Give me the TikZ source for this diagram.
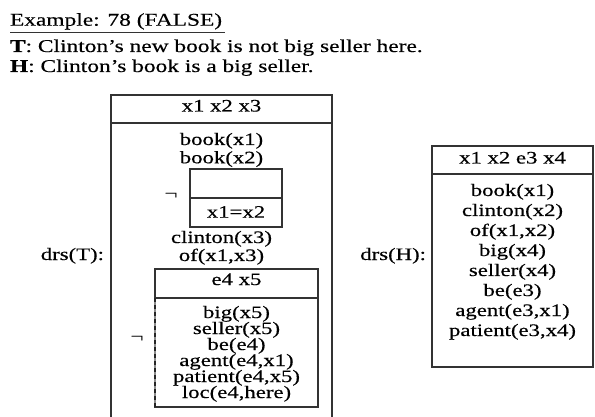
\documentclass[tikz,border=0pt]{standalone}
\usepackage{fontspec}
\setmainfont[FakeStretch=1.3,FakeBold=0.35]{Liberation Serif}
\begin{document}
\begin{tikzpicture}[x=1pt,y=-1pt,
  every node/.style={inner sep=0pt,outer sep=0pt,text=black},
  head/.style={font=\fontsize{18}{20}\selectfont,anchor=base west},
  term/.style={font=\fontsize{17.5}{20}\selectfont,anchor=base},
  lab/.style={font=\fontsize{17.5}{20}\selectfont,anchor=base east},
  negsign/.style={font=\fontsize{18}{20}\selectfont,anchor=center},
  boxline/.style={draw=black!80,line width=1.1pt},
]
\useasboundingbox (0,0) rectangle (595,417);

% heading and the two sentences
\node[head] (ex) at (10,25.7) {Example: 78 (FALSE)};
\coordinate (ulA) at (10,32.5);
\coordinate (ulB) at (225,32.5);
\draw[draw=black!80,line width=1.4pt] (ulA) -- (ulB);
\node[head] (sentT) at (10,52) {\textbf{T}: Clinton’s new book is not big seller here.};
\node[head] (sentH) at (10,72) {\textbf{H}: Clinton’s book is a big seller.};

% ---- drs(T): outer box, open at the bottom ----
\coordinate (tTL) at (111,95);
\coordinate (tTR) at (332,95);
\coordinate (tBL) at (111,417);
\coordinate (tBR) at (332,417);
\coordinate (tSL) at (111,123);
\coordinate (tSR) at (332,123);
\draw[boxline] (tBL) -- (tTL) -- (tTR) -- (tBR);
\draw[boxline] (tSL) -- (tSR);
\node[lab] (drsT) at (104,260) {drs(T):};
\node[term] (tHead) at (221.5,111.5) {x1 x2 x3};
\node[term] (tc1) at (221.5,145) {book(x1)};
\node[term] (tc2) at (221.5,163.3) {book(x2)};

% first negated sub-box
\coordinate (aTL) at (190,169);
\coordinate (aBR) at (282,227);
\coordinate (aSL) at (190,198);
\coordinate (aSR) at (282,198);
\draw[boxline] (aTL) rectangle (aBR);
\draw[boxline] (aSL) -- (aSR);
\node[negsign] (negA) at (171,196) {¬};
\node[term] (aCond) at (236,217.7) {x1=x2};

\node[term] (tc3) at (221.5,243) {clinton(x3)};
\node[term] (tc4) at (221.5,261) {of(x1,x3)};

% second negated sub-box
\coordinate (bTL) at (155,269);
\coordinate (bBR) at (318,407);
\coordinate (bSL) at (155,298);
\coordinate (bSR) at (318,298);
\coordinate (bBL) at (155,407);
\draw[boxline] (bTL) rectangle (bBR);
\draw[boxline] (bSL) -- (bSR);
\draw[draw=black!45,line width=1.1pt] (bSL) -- (bBL);
\draw[draw=black!85,line width=1.1pt,dash pattern=on 4pt off 3pt] (bSL) -- (bBL);
\node[negsign] (negB) at (137,339) {¬};
\node[term] (bHead) at (236.5,285) {e4 x5};
\node[term] (b1) at (236.5,318) {big(x5)};
\node[term] (b2) at (236.5,334) {seller(x5)};
\node[term] (b3) at (236.5,350) {be(e4)};
\node[term] (b4) at (236.5,366) {agent(e4,x1)};
\node[term] (b5) at (236.5,382) {patient(e4,x5)};
\node[term] (b6) at (236.5,398) {loc(e4,here)};

% ---- drs(H) ----
\coordinate (hTL) at (432,146);
\coordinate (hBR) at (593,367);
\coordinate (hSL) at (432,174);
\coordinate (hSR) at (593,174);
\draw[boxline] (hTL) rectangle (hBR);
\draw[boxline] (hSL) -- (hSR);
\node[lab] (drsH) at (426,260) {drs(H):};
\node[term] (hHead) at (512.5,163.5) {x1 x2 e3 x4};
\node[term] (h1) at (512.5,196) {book(x1)};
\node[term] (h2) at (512.5,216) {clinton(x2)};
\node[term] (h3) at (512.5,236) {of(x1,x2)};
\node[term] (h4) at (512.5,256) {big(x4)};
\node[term] (h5) at (512.5,276) {seller(x4)};
\node[term] (h6) at (512.5,296) {be(e3)};
\node[term] (h7) at (512.5,316) {agent(e3,x1)};
\node[term] (h8) at (512.5,336) {patient(e3,x4)};
\end{tikzpicture}
\end{document}
